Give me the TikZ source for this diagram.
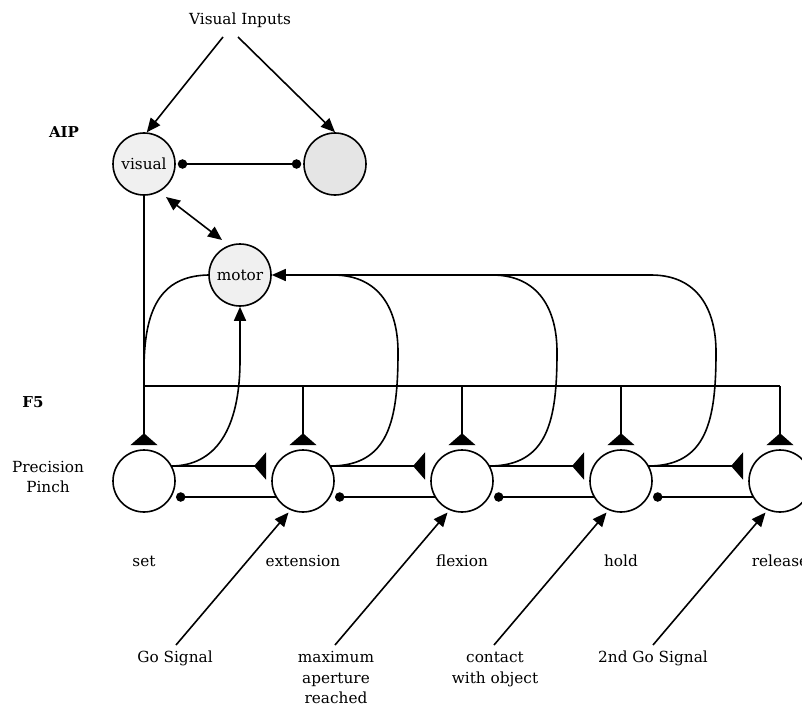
\documentclass[tikz,border=0pt]{standalone}
\usepackage{fontspec}
\setmainfont{DejaVu Serif}
\usetikzlibrary{arrows.meta,calc}
\begin{document}
\begin{tikzpicture}[x=1pt,y=-1pt,line width=1.6pt,
  every node/.style={font=\fontsize{15.3}{18}\selectfont, inner sep=0pt},
  cell/.style={circle, draw, line width=1.6pt, minimum size=62pt, inner sep=0pt, fill=white},
  arr/.style={-{Triangle[length=14pt,width=12pt]}},
  dbl/.style={{Triangle[length=14pt,width=12pt]}-{Triangle[length=14pt,width=12pt]}},
  exc/.style={-{Triangle[reversed,length=12pt,width=27pt]}},
  inh/.style={{Circle[length=9.4pt]}-},
  dotdot/.style={{Circle[length=9.4pt]}-{Circle[length=9.4pt]}},
  lbl/.style={anchor=base},
  boldlbl/.style={anchor=base, font=\fontsize{15}{18}\selectfont\bfseries}]
\path[use as bounding box] (0,0) rectangle (802,706);

% labels
\node[lbl] (vi) at (240,25) {Visual Inputs};
\node[boldlbl] (aip) at (64,137) {AIP};
\node[boldlbl] (f5) at (33,407) {F5};
\node[lbl] (pp1) at (48,472) {Precision};
\node[lbl] (pp2) at (48,492) {Pinch};

% AIP cells
\node[cell, fill=gray!12] (vis) at (144,164) {visual};
\node[cell, fill=gray!20] (rc) at (335,164) {};
\node[cell, fill=gray!12] (mot) at (240,275) {motor};

% F5 cells
\node[cell] (c1) at (144,481) {};
\node[cell] (c2) at (303,481) {};
\node[cell] (c3) at (462,481) {};
\node[cell] (c4) at (621,481) {};
\node[cell] (c5) at (780,481) {};

\node[lbl] (l1) at (144,566) {set};
\node[lbl] (l2) at (303,566) {extension};
\node[lbl] (l3) at (462,566) {flexion};
\node[lbl] (l4) at (621,566) {hold};
\node[lbl] (l5) at (780,566) {release};

\node[lbl] (s2) at (175,662) {Go Signal};
\node[lbl] (s3a) at (336,662) {maximum};
\node[lbl] (s3b) at (336,683) {aperture};
\node[lbl] (s3c) at (336,703) {reached};
\node[lbl] (s4a) at (495,662) {contact};
\node[lbl] (s4b) at (495,683) {with object};
\node[lbl] (s5) at (653,662) {2nd Go Signal};

% visual inputs
\coordinate (vi1) at ($(vi.base)+(-17,12)$);
\coordinate (vi2) at ($(vi.base)+(-2,12)$);
\draw[arr] (vi1) -- (vis.85);
\draw[arr] (vi2) -- (rc.north);
\draw[dotdot, shorten <=2pt, shorten >=2pt] (vis) -- (rc);
\draw[dbl] ($(vis.center)+(22,33)$) -- ($(mot.center)+(-18,-35)$);

% bus
\coordinate (bus1) at (144,386);
\coordinate (bus5) at (780,386);
\draw[exc] (vis.south) -- ($(c1.north)+(0,-4)$);
\draw (bus1) -- (bus5);
\foreach \i in {2,...,5}
  \draw[exc] (c\i.north |- bus1) -- ($(c\i.north)+(0,-4)$);

% motor to bus
\draw (mot.west) .. controls (160,276) and (144,310) .. (144,370) -- (bus1);
% set to motor
\draw[arr] ($(c1.center)+(27.1,-15)$) .. controls (215,466) and (240,430) .. (240,360) -- (mot.south);
% loops
\foreach \i in {2,3,4}
  \draw ($(c\i.center)+(27.1,-15)$) .. controls +(59,0) and +(0,68) .. ($(c\i.center)+(95,-129)$)
        .. controls +(0,-42) and +(47,0) .. ($(c\i.center)+(30,-206)$);
\draw[arr] ($(c4.center)+(30,-206)$) -- (mot.east);

% chain connections
\foreach \i/\j in {1/2,2/3,3/4,4/5}{
  \draw[exc] ($(c\i.center)+(27.1,-15)$) -- ($(c\j.center)+(-37,-15)$);
  \draw[inh] ($(c\i.center)+(32,16)$) -- ($(c\j.center)+(-26.5,16)$);
}

% external signals
\foreach \i in {2,...,5}
  \draw[arr] ($(c\i.center)+(-127,164)$) -- ($(c\i.center)+(-14.5,31.5)$);
\end{tikzpicture}
\end{document}
